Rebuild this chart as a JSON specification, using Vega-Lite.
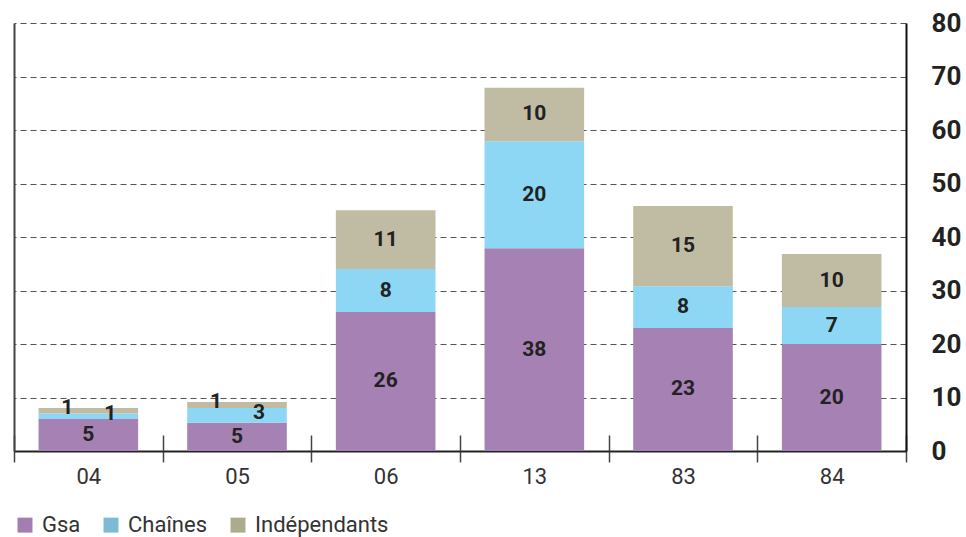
{
  "$schema": "https://vega.github.io/schema/vega-lite/v6.json",
  "width": 892,
  "height": 428,
  "autosize": {"type": "none"},
  "padding": {"left": 14, "top": 23, "right": 60, "bottom": 86},
  "config": {"view": {"stroke": null}, "font": "Roboto"},
  "data": {
    "values": [
      {"cat": "04", "series": "Gsa", "value": 6.0, "label": "5"},
      {"cat": "04", "series": "Chaînes", "value": 1.0, "label": "1"},
      {"cat": "04", "series": "Indépendants", "value": 1.05, "label": "1"},
      {"cat": "05", "series": "Gsa", "value": 5.3, "label": "5"},
      {"cat": "05", "series": "Chaînes", "value": 2.75, "label": "3"},
      {"cat": "05", "series": "Indépendants", "value": 1.1, "label": "1"},
      {"cat": "06", "series": "Gsa", "value": 26.0, "label": "26"},
      {"cat": "06", "series": "Chaînes", "value": 8.0, "label": "8"},
      {"cat": "06", "series": "Indépendants", "value": 11.0, "label": "11"},
      {"cat": "13", "series": "Gsa", "value": 37.9, "label": "38"},
      {"cat": "13", "series": "Chaînes", "value": 20.0, "label": "20"},
      {"cat": "13", "series": "Indépendants", "value": 10.0, "label": "10"},
      {"cat": "83", "series": "Gsa", "value": 23.0, "label": "23"},
      {"cat": "83", "series": "Chaînes", "value": 7.8, "label": "8"},
      {"cat": "83", "series": "Indépendants", "value": 15.0, "label": "15"},
      {"cat": "84", "series": "Gsa", "value": 20.0, "label": "20"},
      {"cat": "84", "series": "Chaînes", "value": 6.9, "label": "7"},
      {"cat": "84", "series": "Indépendants", "value": 9.9, "label": "10"}
    ]
  },
  "transform": [{"stack": "value", "groupby": ["cat"], "as": ["y0", "y1"]}],
  "layer": [
    {
      "mark": {"type": "bar", "width": {"band": 0.67}},
      "encoding": {
        "x": {
          "field": "cat", "type": "nominal", "sort": null,
          "scale": {"paddingInner": 0, "paddingOuter": 0},
          "axis": {
            "orient": "bottom", "title": null, "labelAngle": 0,
            "domainColor": "#222", "domainWidth": 2,
            "tickColor": "#444", "tickWidth": 1.5, "tickSize": 11, "tickBand": "extent",
            "labelFontSize": 22, "labelColor": "#333", "labelPadding": 4, "grid": false
          }
        },
        "y": {
          "field": "y0", "type": "quantitative",
          "scale": {"domain": [0, 80], "nice": false},
          "axis": {
            "orient": "right", "title": null, "values": [0, 10, 20, 30, 40, 50, 60, 70, 80],
            "grid": true, "gridDash": [6, 4], "gridColor": "#555", "gridWidth": 1,
            "domainColor": "#111", "domainWidth": 2, "ticks": false,
            "labelFontSize": 26, "labelFontWeight": "bold", "labelColor": "#222",
            "labelPadding": 25, "labelAlign": "left"
          }
        },
        "y2": {"field": "y1"},
        "color": {
          "field": "series", "type": "nominal",
          "scale": {"domain": ["Gsa", "Chaînes", "Indépendants"], "range": ["#a681b3", "#8dd6f4", "#c0bca3"]},
          "legend": {
            "orient": "bottom", "direction": "horizontal", "title": null,
            "symbolType": "square", "symbolSize": 56,
            "labelFontSize": 22, "labelColor": "#333", "labelOffset": 6, "columnPadding": 11,
            "offset": 27, "padding": 0,
            "encode": {
              "symbols": {
                "update": {
                  "stroke": {"signal": "datum.value == 'Gsa' ? '#a47db2' : datum.value == 'Chaînes' ? '#7dbad6' : '#adab8e'"},
                  "strokeWidth": {"value": 7.5},
                  "strokeJoin": {"value": "miter"},
                  "opacity": {"value": 1}
                }
              }
            }
          }
        }
      }
    },
    {
      "transform": [
        {"filter": "!((datum.cat == '04' || datum.cat == '05') && datum.series != 'Gsa')"},
        {"fold": ["y0", "y1"], "as": ["k", "v"]},
        {"aggregate": [{"op": "mean", "field": "v", "as": "mid"}], "groupby": ["cat", "series", "label"]}
      ],
      "mark": {"type": "text", "fontSize": 21, "fontWeight": "bold", "color": "#222", "baseline": "middle"},
      "encoding": {
        "x": {
          "field": "cat", "type": "nominal", "sort": null,
          "axis": {
            "orient": "bottom", "title": null, "domain": false, "labels": false, "grid": false,
            "ticks": true, "tickSize": -16, "tickBand": "extent", "tickColor": "#444", "tickWidth": 1.5
          }
        },
        "y": {
          "field": "mid", "type": "quantitative",
          "axis": {
            "orient": "left", "title": null, "labels": false, "ticks": false, "grid": false,
            "domainColor": "#444", "domainWidth": 2
          }
        },
        "text": {"field": "label"}
      }
    },
    {
      "transform": [
        {"filter": "(datum.cat == '04' || datum.cat == '05') && datum.series == 'Indépendants'"},
        {"fold": ["y0", "y1"], "as": ["k", "v"]},
        {"aggregate": [{"op": "mean", "field": "v", "as": "mid"}], "groupby": ["cat", "series", "label"]}
      ],
      "mark": {"type": "text", "fontSize": 21, "fontWeight": "bold", "color": "#222", "baseline": "middle", "dx": -21, "dy": -3},
      "encoding": {
        "x": {"field": "cat", "type": "nominal", "sort": null, "axis": null},
        "y": {"field": "mid", "type": "quantitative", "axis": null},
        "text": {"field": "label"}
      }
    },
    {
      "transform": [
        {"filter": "(datum.cat == '04' || datum.cat == '05') && datum.series == 'Chaînes'"},
        {"fold": ["y0", "y1"], "as": ["k", "v"]},
        {"aggregate": [{"op": "mean", "field": "v", "as": "mid"}], "groupby": ["cat", "series", "label"]}
      ],
      "mark": {"type": "text", "fontSize": 21, "fontWeight": "bold", "color": "#222", "baseline": "middle", "dx": 22, "dy": -2},
      "encoding": {
        "x": {"field": "cat", "type": "nominal", "sort": null, "axis": null},
        "y": {"field": "mid", "type": "quantitative", "axis": null},
        "text": {"field": "label"}
      }
    }
  ],
  "resolve": {"axis": {"x": "independent", "y": "independent"}}
}
